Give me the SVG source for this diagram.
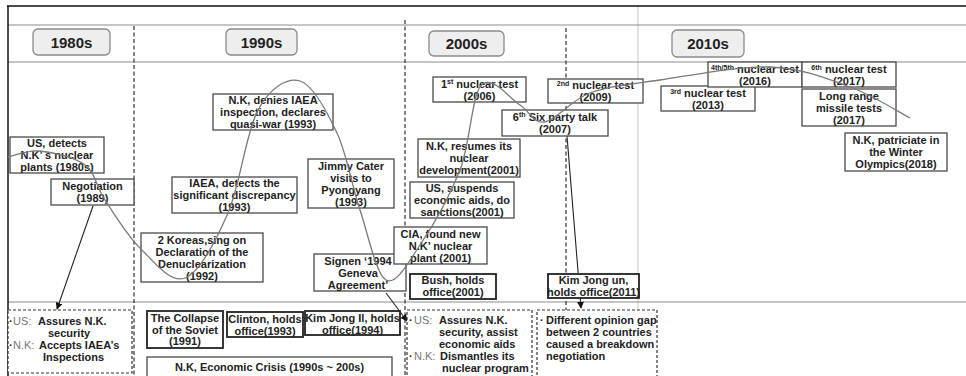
<svg xmlns="http://www.w3.org/2000/svg" width="966" height="376" viewBox="0 0 966 376">
<defs>
<style>
.b{fill:#fff;stroke:#4a4a4a;stroke-width:1.3}
.bk{fill:#fff;stroke:#222;stroke-width:1.8}
.d{fill:#fff;stroke:#333;stroke-width:1.2;stroke-dasharray:3 2}
.h{fill:#eeeeee;stroke:#8a8a8a;stroke-width:1.3}
.t{font-family:"Liberation Sans",Arial,sans-serif;font-weight:bold;font-size:11px;fill:#222;text-anchor:middle}
.l{text-anchor:start}
.ht{font-size:15px}
.g{fill:#777;font-weight:normal}
.sup{font-size:7px}
.vd{stroke:#333;stroke-width:1.2;stroke-dasharray:4 2.5;fill:none}
.gl{stroke:#8c8c8c;stroke-width:1.2;fill:none}
.curve{fill:none;stroke:#7a7a7a;stroke-width:1.3}
.arr{stroke:#222;stroke-width:1.1;fill:none;marker-end:url(#ah)}
</style>
<marker id="ah" viewBox="0 0 10 10" refX="9" refY="5" markerWidth="7" markerHeight="7" markerUnits="userSpaceOnUse" orient="auto">
<path d="M0,0 L10,5 L0,10 z" fill="#111"/>
</marker>
</defs>
<rect width="966" height="376" fill="#fff"/>
<g id="frame">
<line x1="638" y1="6" x2="638" y2="376" stroke="#d0d0d0" stroke-width="1.2"/>
<line x1="8" y1="25" x2="966" y2="25" class="gl"/>
<line x1="8" y1="62" x2="966" y2="62" class="gl"/>
<line x1="8" y1="302" x2="966" y2="302" class="gl"/>
<line x1="7" y1="6" x2="966" y2="6" stroke="#111" stroke-width="1.5"/>
<line x1="8" y1="6" x2="8" y2="376" stroke="#111" stroke-width="1.5"/>
<line x1="134" y1="26" x2="134" y2="376" class="vd"/>
<line x1="405" y1="20" x2="405" y2="376" class="vd"/>
<line x1="566" y1="28" x2="566" y2="376" class="vd"/>
</g>
<g id="connectors">
<line x1="93" y1="206" x2="57" y2="309" class="arr"/>
<line x1="386" y1="293" x2="407" y2="321" class="arr"/>
<line x1="567" y1="136" x2="581" y2="308" class="arr"/>
</g>
<g id="h1980"><rect x="33" y="29" width="77" height="26" rx="5" class="h"/><text x="71.5" y="47.5" class="t ht">1980s</text></g>
<g id="h1990"><rect x="226" y="29" width="71" height="26" rx="5" class="h"/><text x="261.5" y="47.5" class="t ht">1990s</text></g>
<g id="h2000"><rect x="429" y="31" width="75" height="25" rx="5" class="h"/><text x="466.5" y="49" class="t ht">2000s</text></g>
<g id="h2010"><rect x="672" y="30" width="72" height="27" rx="5" class="h"/><text x="708" y="49" class="t ht">2010s</text></g>

<g id="n-us-detects"><rect x="10" y="137" width="94" height="36" class="b"/><text class="t"><tspan x="57" y="147">US, detects</tspan><tspan x="57" y="159">N.K’ s nuclear</tspan><tspan x="57" y="171">plants (1980s)</tspan></text></g>
<g id="n-negotiation"><rect x="51" y="179" width="83" height="26" class="b"/><text class="t"><tspan x="92.5" y="190">Negotiation</tspan><tspan x="92.5" y="202">(1989)</tspan></text></g>
<g id="n-denies"><rect x="213" y="94" width="120" height="36" class="b"/><text class="t"><tspan x="273" y="104">N.K, denies IAEA</tspan><tspan x="273" y="116">inspection, declares</tspan><tspan x="273" y="128">quasi-war (1993)</tspan></text></g>
<g id="n-iaea"><rect x="172" y="177" width="125" height="36" class="b"/><text class="t"><tspan x="234.5" y="187">IAEA, detects the</tspan><tspan x="234.5" y="199">significant discrepancy</tspan><tspan x="234.5" y="211">(1993)</tspan></text></g>
<g id="n-jimmy"><rect x="308" y="159" width="86" height="49" class="b"/><text class="t"><tspan x="351" y="169.5">Jimmy Cater</tspan><tspan x="351" y="181.5">visits to</tspan><tspan x="351" y="193.5">Pyongyang</tspan><tspan x="351" y="205.5">(1993)</tspan></text></g>
<g id="n-koreas"><rect x="141" y="233" width="122" height="49" class="b"/><text class="t"><tspan x="202" y="244">2 Koreas,sing on</tspan><tspan x="202" y="256">Declaration of the</tspan><tspan x="202" y="268">Denuclearization</tspan><tspan x="202" y="280">(1992)</tspan></text></g>
<g id="n-geneva"><rect x="314" y="254" width="92" height="37" class="b"/><text class="t"><tspan x="358" y="264.5">Signen ‘1994</tspan><tspan x="358" y="276.5">Geneva</tspan><tspan x="358" y="288.5">Agreement’</tspan></text></g>
<g id="n-test1"><rect x="433" y="77" width="93" height="25" class="b"/><text class="t"><tspan x="479.5" y="87.5">1<tspan class="sup" dy="-4">st</tspan><tspan dy="4"> nuclear test</tspan></tspan><tspan x="479.5" y="99.5">(2006)</tspan></text></g>
<g id="n-test2"><rect x="548" y="79" width="95" height="24" class="b"/><text class="t"><tspan x="595.5" y="89"><tspan class="sup" dy="-3">2nd</tspan><tspan dy="3"> nuclear test</tspan></tspan><tspan x="595.5" y="101">(2009)</tspan></text></g>
<g id="n-sixparty"><rect x="502" y="110" width="106" height="26" class="b"/><text class="t"><tspan x="555" y="121">6<tspan class="sup" dy="-4">th</tspan><tspan dy="4"> Six party talk</tspan></tspan><tspan x="555" y="133">(2007)</tspan></text></g>
<g id="n-resumes"><rect x="418" y="139" width="102" height="38" class="b"/><text class="t"><tspan x="469" y="150">N.K, resumes its</tspan><tspan x="469" y="162">nuclear</tspan><tspan x="469" y="174">development(2001)</tspan></text></g>
<g id="n-suspends"><rect x="410" y="182" width="104" height="36" class="b"/><text class="t"><tspan x="462" y="192">US, suspends</tspan><tspan x="462" y="204">economic aids, do</tspan><tspan x="462" y="216">sanctions(2001)</tspan></text></g>
<g id="n-cia"><rect x="394" y="227" width="93" height="37" class="b"/><text class="t"><tspan x="440.5" y="237.5">CIA, found new</tspan><tspan x="440.5" y="249.5">N.K’  nuclear</tspan><tspan x="440.5" y="261.5">plant (2001)</tspan></text></g>
<g id="n-bush"><rect x="410" y="274" width="86" height="25" class="bk"/><text class="t"><tspan x="453" y="284">Bush, holds</tspan><tspan x="453" y="296">office(2001)</tspan></text></g>
<g id="n-kimjongun"><rect x="548" y="274" width="91" height="24" class="bk"/><text class="t"><tspan x="593.5" y="284">Kim Jong un,</tspan><tspan x="593.5" y="296">holds office(2011)</tspan></text></g>
<g id="n-test3"><rect x="661" y="86" width="94" height="25" class="b"/><text class="t"><tspan x="708" y="96.5"><tspan class="sup" dy="-3">3rd</tspan><tspan dy="3"> nuclear test</tspan></tspan><tspan x="708" y="108.5">(2013)</tspan></text></g>
<g id="n-test45"><rect x="708" y="62" width="94" height="25" class="b"/><text class="t"><tspan x="755" y="72.5"><tspan class="sup" dy="-3">4th/5th</tspan><tspan dy="3"> nuclear test</tspan></tspan><tspan x="755" y="84.5">(2016)</tspan></text></g>
<g id="n-test6"><rect x="802" y="62" width="94" height="25" class="b"/><text class="t"><tspan x="849" y="72.5"><tspan class="sup" dy="-3">6th</tspan><tspan dy="3"> nuclear test</tspan></tspan><tspan x="849" y="84.5">(2017)</tspan></text></g>
<g id="n-missile"><rect x="802" y="89" width="94" height="37" class="b"/><text class="t"><tspan x="849" y="99.5">Long range</tspan><tspan x="849" y="111.5">missile tests</tspan><tspan x="849" y="123.5">(2017)</tspan></text></g>
<g id="n-olympics"><rect x="845" y="133" width="102" height="38" class="b"/><text class="t"><tspan x="896" y="144">N.K, patriciate in</tspan><tspan x="896" y="156">the Winter</tspan><tspan x="896" y="168">Olympics(2018)</tspan></text></g>

<g id="n-result1980"><rect x="8" y="310" width="124" height="63" class="d"/><text class="t l"><tspan x="9" y="325">·</tspan><tspan class="g" x="13" y="325">US:</tspan><tspan x="38" y="325">Assures N.K.</tspan><tspan x="48" y="337">security</tspan><tspan x="9" y="349">·</tspan><tspan class="g" x="13" y="349">N.K:</tspan><tspan x="39" y="349">Accepts IAEA’s</tspan><tspan x="43" y="361">Inspections</tspan></text></g>
<g id="n-collapse"><rect x="147" y="311" width="76" height="37" class="bk"/><text class="t"><tspan x="185" y="322">The Collapse</tspan><tspan x="185" y="333.5">of the Soviet</tspan><tspan x="185" y="345">(1991)</tspan></text></g>
<g id="n-clinton"><rect x="227" y="312" width="76" height="25" class="bk"/><text class="t"><tspan x="265" y="323">Clinton, holds</tspan><tspan x="265" y="334.5">office(1993)</tspan></text></g>
<g id="n-kimjongil"><rect x="305" y="311" width="95" height="24" class="bk"/><text class="t"><tspan x="352.5" y="322">Kim Jong Il, holds</tspan><tspan x="352.5" y="333.5">office(1994)</tspan></text></g>
<g id="n-crisis"><rect x="147" y="357" width="245" height="24" class="b"/><text class="t"><tspan x="269.5" y="371">N.K, Economic Crisis (1990s ~ 200s)</tspan></text></g>
<g id="n-result1990"><rect x="407" y="310" width="125" height="70" class="d"/><text class="t l"><tspan x="409" y="324">·</tspan><tspan class="g" x="414" y="324">US:</tspan><tspan x="439" y="324">Assures N.K.</tspan><tspan x="439" y="336">security, assist</tspan><tspan x="439" y="348">economic aids</tspan><tspan x="409" y="360">·</tspan><tspan class="g" x="414" y="360">N.K:</tspan><tspan x="440" y="360">Dismantles its</tspan><tspan x="442" y="372">nuclear program</tspan></text></g>
<g id="n-result2000"><rect x="537" y="310" width="120" height="70" class="d"/><text class="t l"><tspan x="540" y="324">·</tspan><tspan x="546" y="324">Different opinion gap</tspan><tspan x="546" y="336">between 2 countries</tspan><tspan x="546" y="348">caused a breakdown</tspan><tspan x="546" y="360">negotiation</tspan></text></g>

<g id="timeline-curve">
<path class="curve" d="M8,157 C13.3,156 27.2,149.7 40,151 C52.8,152.3 74.2,156.8 85,165 C95.8,173.2 95.8,186.2 105,200 C114.2,213.8 126.7,235 140,248 C153.3,261 170.3,283.8 185,278 C199.7,272.2 215.8,241 228,213 C240.2,185 246,132 258,110 C270,88 286.8,77.2 300,81 C313.2,84.8 327,111.5 337,133 C347,154.5 351.8,185.5 360,210 C368.2,234.5 376,274.2 386,280 C396,285.8 407.7,263.3 420,245 C432.3,226.7 449.3,197 460,170 C470.7,143 472,87 484,83 C496,79 509.8,98.5 520,105 C530.2,111.5 533.3,124 545,122 C556.7,120 570.8,100 590,93 C609.2,86 630,84.3 660,80 C690,75.7 738.3,65.8 770,67 C801.7,68.2 826.7,78.5 850,87 C873.3,95.5 900,112.8 910,118"/>
</g>
</svg>
